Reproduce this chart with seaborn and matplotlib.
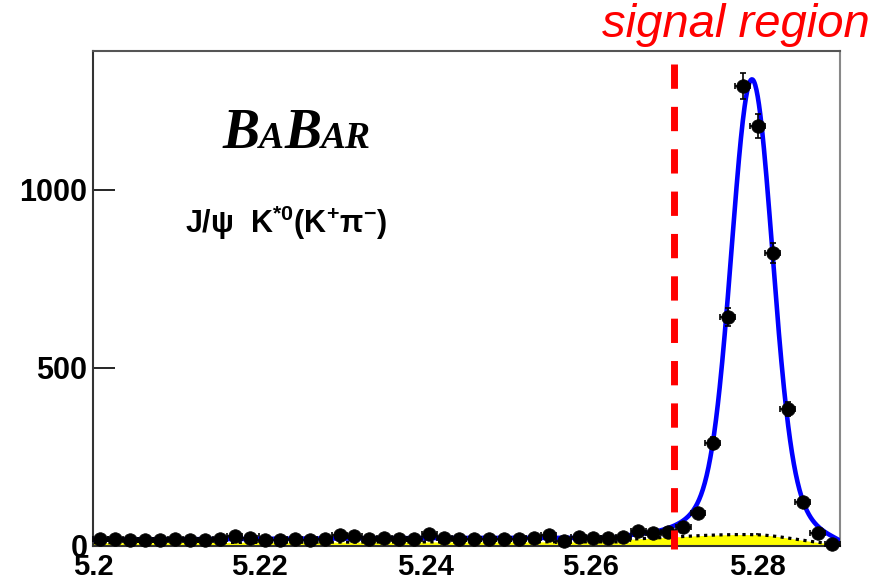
import numpy as np
import pandas as pd
import matplotlib
matplotlib.use("Agg")
import matplotlib.pyplot as plt
import seaborn as sns
from matplotlib.offsetbox import TextArea, HPacker, AnchoredOffsetbox

# m_ES binning (GeV/c^2)
mass_lo, mass_hi, n_bins = 5.20, 5.29, 50

# Events per bin
counts = [20, 20, 16, 18, 18, 20, 18, 18, 20, 27,
          22, 18, 18, 21, 17, 19, 31, 28, 21, 23,
          21, 21, 35, 22, 21, 20, 20, 20, 20, 22,
          31, 14, 26, 22, 23, 26, 42, 36, 38, 53,
          93, 289, 643, 1292, 1180, 823, 385, 124, 37, 5]

# Fit model parameters
sig_mean = 5.2794
sig_core_amp, sig_core_width = 1130.0, 0.0024
sig_tail_amp, sig_tail_width = 140.0, 0.0048
argus_endpoint, argus_shape = 5.29, -35.0
comb_level = 9.0      # combinatorial background at low mass (shaded)
other_level = 8.5     # remaining non-peaking component
peak_bkg_amp, peak_bkg_mean = 23.0, 5.2795
peak_bkg_wl, peak_bkg_wr = 0.010, 0.0046
peak_bkg_start = 5.2647

x_ticks = [5.20, 5.22, 5.24, 5.26, 5.28]
x_tick_labels = ["5.2", "5.22", "5.24", "5.26", "5.28"]
y_ticks = [0, 500, 1000]
y_tick_labels = ["0", "500", "1000"]
signal_cut = 5.27

sns.set_theme(style="white")
plt.rcParams["font.family"] = ["Liberation Sans", "DejaVu Sans"]
plt.rcParams["mathtext.fontset"] = "custom"
plt.rcParams["mathtext.rm"] = "Liberation Sans"
plt.rcParams["mathtext.bf"] = "Liberation Sans:bold"
plt.rcParams["mathtext.it"] = "Liberation Sans:italic"


def argus(m):
    z = np.clip(1.0 - (m / argus_endpoint) ** 2, 0.0, None)
    return m * np.sqrt(z) * np.exp(argus_shape * z)


def gauss(m, amp, mean, width):
    return amp * np.exp(-0.5 * ((m - mean) / width) ** 2)


edges = np.linspace(mass_lo, mass_hi, n_bins + 1)
centers = 0.5 * (edges[:-1] + edges[1:])
half_bin = 0.5 * (edges[1] - edges[0])
data = pd.DataFrame({"mes": centers, "n": counts})
data["err"] = np.sqrt(data["n"])

m = np.linspace(mass_lo, mass_hi, 1200)
argus_norm = argus(np.array(mass_lo))
comb = comb_level * argus(m) / argus_norm
other = other_level * argus(m) / argus_norm
pk_width = np.where(m < peak_bkg_mean, peak_bkg_wl, peak_bkg_wr)
peaking = gauss(m, peak_bkg_amp, peak_bkg_mean, pk_width) * (m >= peak_bkg_start)
signal = (gauss(m, sig_core_amp, sig_mean, sig_core_width)
          + gauss(m, sig_tail_amp, sig_mean, sig_tail_width))
bkg = comb + peaking
total = bkg + other + signal
curves = pd.DataFrame({"mes": m, "bkg": bkg, "total": total})

fig = plt.figure(figsize=(8.86, 5.84), dpi=100)
ax = fig.add_axes([0.105, 0.0651, 0.843, 0.8476])

ax.fill_between(curves["mes"], 0, curves["bkg"], color="#ffff00", lw=0, zorder=1)
sns.lineplot(data=curves, x="mes", y="bkg", ax=ax, color="black", lw=2.3,
             linestyle=(0, (1.0, 1.4)), zorder=2)
sns.lineplot(data=curves, x="mes", y="total", ax=ax, color="#0000ff", lw=3.3,
             zorder=3)
ax.errorbar(data["mes"], data["n"], yerr=data["err"], xerr=half_bin, fmt="none",
            ecolor="black", elinewidth=1.2, capsize=2.5, capthick=1.2,
            zorder=4, clip_on=False)
sns.scatterplot(data=data, x="mes", y="n", ax=ax, color="black", s=95,
                edgecolor="black", linewidth=0.5, zorder=5, clip_on=False)

ax.plot([signal_cut, signal_cut], [1354, -8], color="#ff0000", lw=5,
        dashes=(3.5, 2.6), zorder=6, clip_on=False)

ax.set_xlim(mass_lo, mass_hi)
ax.set_ylim(0, 1390)
ax.set_xlabel("")
ax.set_ylabel("")
ax.set_xticks(x_ticks, x_tick_labels, fontweight="bold")
ax.set_yticks(y_ticks, y_tick_labels, fontweight="bold")
ax.tick_params(axis="x", direction="in", length=9.5, width=1.2, pad=5,
               labelsize=21, colors="black", bottom=True)
ax.tick_params(axis="y", direction="in", length=16, width=1.2, pad=4,
               labelsize=22, colors="black", left=True)
ax.grid(False)
for side, col in [("left", "#333333"), ("bottom", "#333333"),
                  ("top", "#555555"), ("right", "#888888")]:
    ax.spines[side].set_visible(True)
    ax.spines[side].set_color(col)
    ax.spines[side].set_linewidth(1.5)

# Experiment logo in small capitals
big = dict(fontsize=40, fontfamily="Liberation Serif", fontweight="bold",
           fontstyle="italic", color="black")
small = dict(fontsize=27, fontfamily="Liberation Serif", fontweight="bold",
             fontstyle="italic", color="black")
logo = HPacker(children=[TextArea("B", textprops=big), TextArea("A", textprops=small),
                         TextArea("B", textprops=big), TextArea("AR", textprops=small)],
               align="baseline", pad=0, sep=0)
ax.add_artist(AnchoredOffsetbox(loc="center", child=logo, frameon=False, pad=0,
                                borderpad=0, bbox_to_anchor=(0.273, 0.832),
                                bbox_transform=ax.transAxes))

ax.text(0.123, 0.632, r"$\mathbf{J/\psi\ \ K^{*0}(K^{+}\pi^{-})}$",
        transform=ax.transAxes, fontsize=22, ha="left", va="baseline",
        color="black")

fig.text(0.679, 0.9366, "signal region", color="#ff0000", fontsize=34,
         fontstyle="italic", ha="left", va="baseline")

fig.savefig("out.png", dpi=100)
